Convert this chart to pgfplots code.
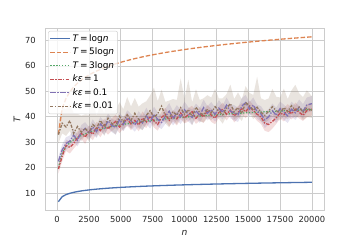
\documentclass[border=0pt]{standalone}
\usepackage{fontspec}
\setmainfont{DejaVu Sans}
\usepackage{pgfplots}
\pgfplotsset{compat=1.18}
\usepackage{pgfplotstable}
\usepgfplotslibrary{fillbetween}
\definecolor{cblue}{HTML}{4C72B0}
\definecolor{corange}{HTML}{DD8452}
\definecolor{cgreen}{HTML}{55A868}
\definecolor{cred}{HTML}{C44E52}
\definecolor{cpurple}{HTML}{8172B3}
\definecolor{cbrown}{HTML}{937860}
\definecolor{cgrid}{HTML}{CCCCCC}
\definecolor{ctext}{HTML}{262626}
\pgfplotstableread{
n      lg     lg5    lg3    r     rd   p     pd   b     bl   bu
100    6.644  33.22  19.93  19.5  1.8  22.5  1.8  33.0  3.5  5.0
400    8.644  43.22  25.93  24.5  2.0  27.0  2.2  37.5  4.0  6.0
700    9.451  47.26  28.35  28.8  2.2  29.5  2.5  36.0  3.5  7.0
1000   9.966  49.83  29.90  28.0  2.4  30.5  2.2  38.5  4.0  6.5
1300   10.344 51.72  31.03  29.5  2.0  32.8  2.6  33.5  3.5  8.0
1600   10.644 53.22  31.93  31.8  2.5  30.8  2.4  36.2  3.0  5.0
1900   10.892 54.46  32.68  33.5  2.2  34.0  2.8  34.0  3.5  6.5
2200   11.103 55.52  33.31  32.0  2.6  35.5  2.4  35.5  3.0  5.5
2500   11.288 56.44  33.86  34.5  2.0  33.5  2.6  33.8  3.5  7.0
2800   11.451 57.26  34.35  33.2  2.4  36.0  3.0  37.0  3.0  9.0
3100   11.598 57.99  34.79  35.8  2.2  34.2  2.5  35.6  3.5  5.0
3400   11.731 58.66  35.19  34.6  2.6  37.2  2.8  38.6  3.0  6.0
3700   11.853 59.27  35.56  36.9  2.4  35.5  2.6  36.0  3.5  5.5
4000   11.966 59.83  35.90  35.2  2.2  38.4  3.0  39.5  3.5  8.0
4300   12.070 60.35  36.21  37.0  2.5  36.6  2.6  37.4  3.0  5.0
4600   12.167 60.84  36.50  38.2  2.6  35.8  2.8  36.6  3.5  6.0
4900   12.258 61.29  36.77  36.0  2.4  38.8  3.0  40.2  3.0  5.5
5200   12.344 61.72  37.03  37.5  2.2  37.0  2.6  38.0  3.5  5.0
5500   12.425 62.13  37.28  39.0  2.6  39.6  3.0  40.8  3.0  7.0
5800   12.502 62.51  37.51  37.2  2.4  38.4  2.8  38.6  3.5  5.5
6100   12.574 62.87  37.72  38.6  2.2  36.8  2.6  41.4  3.0  6.0
6400   12.644 63.22  37.93  36.8  2.5  39.2  3.0  39.0  3.5  5.0
6700   12.710 63.55  38.13  39.5  2.6  37.6  2.8  37.8  3.0  7.5
7000   12.773 63.87  38.32  38.0  2.4  40.4  3.2  40.6  3.5  5.5
7300   12.834 64.17  38.50  40.2  2.2  38.2  2.8  42.4  3.0  6.0
7600   12.892 64.46  38.68  38.4  2.6  41.0  3.0  39.8  3.5  11.7
7900   12.948 64.74  38.84  37.0  2.4  39.0  2.8  41.2  3.0  5.0
8200   13.001 65.01  39.00  39.8  2.2  37.8  2.6  44.2  3.5  6.5
8500   13.053 65.27  39.16  41.0  2.6  40.2  3.0  40.4  3.0  5.5
8800   13.103 65.52  39.31  38.6  2.4  42.2  3.2  39.4  3.5  7.0
9100   13.152 65.76  39.46  40.4  2.2  39.4  2.8  42.0  3.0  5.0
9400   13.198 65.99  39.59  39.2  2.6  41.6  3.0  40.6  3.5  6.0
9700   13.244 66.22  39.73  41.5  2.4  40.0  2.8  43.6  3.0  11.5
10000  13.288 66.44  39.86  39.6  2.2  42.8  3.2  41.0  3.5  6.0
10300  13.330 66.65  39.99  40.8  2.6  41.0  2.8  42.8  3.0  11.8
10600  13.372 66.86  40.12  42.0  2.4  39.8  3.0  40.2  3.5  5.5
10900  13.412 67.06  40.24  39.4  2.2  42.4  2.8  43.8  3.0  7.0
11200  13.451 67.26  40.35  41.2  2.6  40.6  3.0  41.6  3.5  5.0
11500  13.489 67.45  40.47  40.0  2.4  43.6  3.2  40.8  3.0  6.5
11800  13.526 67.63  40.58  42.4  2.2  41.4  2.8  43.0  3.5  5.5
12100  13.563 67.81  40.69  40.6  2.6  42.8  3.0  41.6  3.0  6.0
12400  13.598 67.99  40.79  39.5  2.4  41.0  2.8  44.0  3.5  7.0
12700  13.633 68.16  40.90  41.8  2.2  43.4  3.2  42.2  3.0  5.0
13000  13.666 68.33  41.00  43.0  2.6  41.8  2.8  40.8  3.5  6.5
13300  13.699 68.50  41.10  41.0  2.4  44.6  3.0  43.4  3.0  5.5
13600  13.731 68.66  41.19  42.6  2.2  42.2  2.8  45.2  3.5  7.5
13900  13.763 68.81  41.29  40.4  2.6  41.6  3.0  42.0  3.0  5.0
14200  13.794 68.97  41.38  41.8  2.4  40.8  2.8  43.6  3.5  6.0
14500  13.824 69.12  41.47  43.2  2.2  44.2  3.2  41.4  3.0  5.5
14800  13.853 69.27  41.56  42.0  2.6  45.6  3.0  45.6  3.5  6.5
15100  13.882 69.41  41.65  44.0  2.4  43.0  2.8  44.4  3.0  5.0
15400  13.911 69.55  41.73  42.5  2.2  44.6  3.0  42.6  3.5  6.0
15700  13.939 69.69  41.82  41.0  2.6  42.0  2.8  43.8  3.0  12.0
16000  13.966 69.83  41.90  40.0  2.8  41.2  3.0  41.8  3.5  5.5
16300  13.993 69.96  41.98  37.5  3.0  38.8  3.2  40.6  3.0  6.0
16600  14.019 70.10  42.06  37.0  3.0  40.0  3.0  42.2  3.5  5.0
16900  14.045 70.22  42.14  38.2  2.8  42.4  2.8  44.0  3.0  7.0
17200  14.070 70.35  42.21  39.6  2.4  40.6  3.0  42.4  3.5  5.5
17500  14.095 70.48  42.29  41.5  2.2  43.2  2.8  41.6  3.0  6.0
17800  14.120 70.60  42.36  40.8  2.6  41.8  3.0  43.6  3.5  7.5
18100  14.144 70.72  42.43  42.6  2.4  40.4  2.8  42.0  3.0  5.0
18400  14.167 70.84  42.50  41.2  2.2  43.0  3.0  44.4  3.5  6.0
18700  14.191 70.95  42.57  43.0  2.6  41.6  2.8  42.6  3.0  10.0
19000  14.214 71.07  42.64  41.8  2.4  43.8  3.0  43.8  3.5  5.5
19300  14.236 71.18  42.71  40.6  2.2  42.2  2.8  41.8  3.0  6.0
19600  14.259 71.29  42.78  42.4  2.6  44.6  3.0  43.4  3.5  7.0
20000  14.288 71.44  42.86  43.0  2.4  45.2  3.0  42.6  3.0  5.5
}\data
\pgfplotsset{legend image code/.code={\draw[#1] plot coordinates {(0bp,0bp) (19.5bp,0bp)};}}
\begin{document}
\begin{tikzpicture}
\begin{axis}[
  at={(0,0)}, anchor=south west,
  scale only axis, width=279bp, height=182bp,
  xmin=-950, xmax=20950, ymin=3.4, ymax=74.9,
  xtick={0,2500,...,20000}, ytick={10,20,...,70},
  /pgf/number format/assume math mode=true,
  /pgf/number format/set thousands separator={},
  scaled x ticks=false,
  major tick length=0pt,
  grid=major,
  major grid style={draw=cgrid, line width=0.8bp},
  axis line style={draw=cgrid, line width=1bp},
  ticklabel style={font=\fontsize{8.4}{10}\selectfont, text=ctext},
  xticklabel style={inner sep=0pt, anchor=north, yshift=-6bp},
  yticklabel style={inner sep=0pt, anchor=east, xshift=-9bp},
  xlabel={\textit{n}}, ylabel={\textit{T}},
  label style={font=\fontsize{9.2}{11}\selectfont, text=ctext},
  xlabel style={at={(axis description cs:0.5,0)}, anchor=center, yshift=-23bp},
  ylabel style={at={(axis description cs:0,0.5)}, anchor=center, yshift=28bp},
  legend cell align=left,
  legend style={at={(axis description cs:0.011,0.984)}, anchor=north west,
    draw=cgrid, rounded corners=2bp, fill=white, fill opacity=0.8, text opacity=1,
    font=\fontsize{9}{10.5}\selectfont, inner sep=1.5bp, row sep=1.2bp},
]
\addplot[cblue, line width=1.3bp] table[x=n,y=lg] {\data};
\addlegendentry{\textit{T}\,=\,log\textit{n}}
\addplot[corange, line width=1.3bp, dash pattern=on 4.5bp off 2bp] table[x=n,y=lg5] {\data};
\addlegendentry{\textit{T}\,=\,5log\textit{n}}
\addplot[cgreen, line width=1.3bp, dash pattern=on 1.3bp off 1.6bp] table[x=n,y=lg3] {\data};
\addlegendentry{\textit{T}\,=\,3log\textit{n}}
% red band
\addplot[name path=rU, draw=none, forget plot] table[x=n, y expr=\thisrow{r}+\thisrow{rd}] {\data};
\addplot[name path=rL, draw=none, forget plot] table[x=n, y expr=\thisrow{r}-\thisrow{rd}] {\data};
\addplot[fill=cred, fill opacity=0.2, draw=none, forget plot] fill between[of=rU and rL];
\addplot[cred, line width=1.3bp, dash pattern=on 3.5bp off 1.4bp on 1.3bp off 1.4bp] table[x=n,y=r] {\data};
\addlegendentry{\textit{kε}\,=\,1}
% purple band
\addplot[name path=pU, draw=none, forget plot] table[x=n, y expr=\thisrow{p}+\thisrow{pd}] {\data};
\addplot[name path=pL, draw=none, forget plot] table[x=n, y expr=\thisrow{p}-\thisrow{pd}] {\data};
\addplot[fill=cpurple, fill opacity=0.2, draw=none, forget plot] fill between[of=pU and pL];
\addplot[cpurple, line width=1.3bp, dash pattern=on 5.5bp off 1.5bp on 1.3bp off 1.5bp] table[x=n,y=p] {\data};
\addlegendentry{\textit{kε}\,=\,0.1}
% brown band
\addplot[name path=bU, draw=none, forget plot] table[x=n, y expr=\thisrow{b}+\thisrow{bu}] {\data};
\addplot[name path=bL, draw=none, forget plot] table[x=n, y expr=\thisrow{b}-\thisrow{bl}] {\data};
\addplot[fill=cbrown, fill opacity=0.2, draw=none, forget plot] fill between[of=bU and bL];
\addplot[cbrown, line width=1.3bp, dash pattern=on 3bp off 1.5bp on 1.3bp off 1.5bp] table[x=n,y=b] {\data};
\addlegendentry{\textit{kε}\,=\,0.01}
\end{axis}
\path (-45bp,-30bp) rectangle (315bp,210bp);
\end{tikzpicture}
\end{document}
